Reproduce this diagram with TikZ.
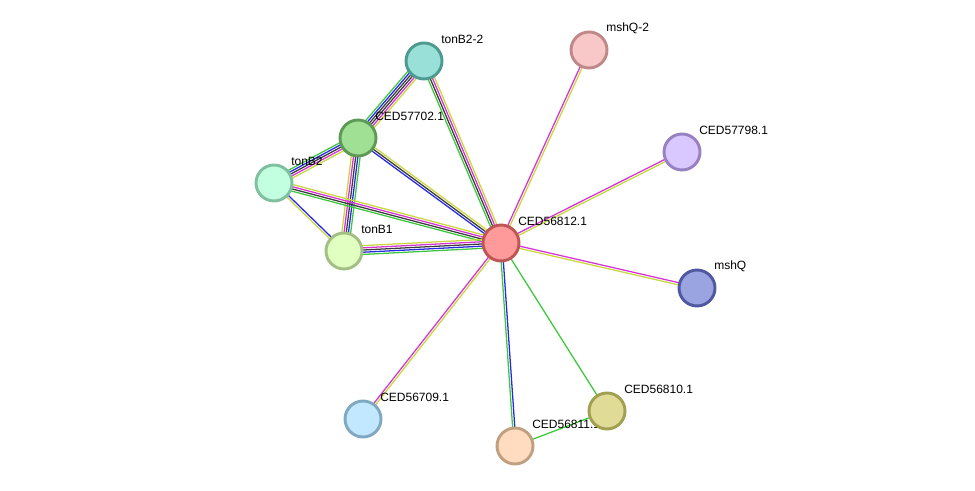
\documentclass[tikz,border=0pt]{standalone}
\usepackage{fontspec}
\setmainfont{Liberation Sans}
\usetikzlibrary{calc,backgrounds}

% evidence colours
\definecolor{egreen}{RGB}{60,200,60}
\definecolor{eblue}{RGB}{40,40,235}
\definecolor{epink}{RGB}{215,50,215}
\definecolor{edark}{RGB}{60,60,60}
\definecolor{eyellow}{RGB}{200,215,60}

% parallel strands between two proteins
\newcommand{\linkedge}[4]{%
  \foreach \c [count=\i] in {#4} {
    \pgfmathsetmacro{\off}{((#3+1)/2-\i)*1.65}
    \draw[strand,\c] ($(#1)!\off pt!90:(#2)$) -- ($(#2)!\off pt!-90:(#1)$);
  }}

\begin{document}
\begin{tikzpicture}[
  x=0.75pt, y=-0.75pt,
  every node/.style={font=\fontsize{9}{10}\selectfont},
  protein/.style={circle,minimum size=27pt,inner sep=0pt,line width=2.2pt},
  tag/.style={anchor=west,inner sep=0pt},
  strand/.style={line width=0.95pt}
]
\useasboundingbox (0,0) rectangle (975,491);

% proteins
\foreach \n/\x/\y/\f/\d/\t in {
  tonBzz/424/61/99E0D8/4E9A90/tonB2-2,
  nfivesevenzero/358/138/A0E094/5E9A55/CED57702.1,
  tonBtwo/274/183/C2FFE0/80C0A0/tonB2,
  tonBone/344/251/E2FFC2/A2C084/tonB1,
  hub/501/243/FF9A9A/C05555/CED56812.1,
  mshQtwo/589/50/F8C8C8/C08888/mshQ-2,
  nfivesevennine/682/152/D8C8FF/9880C4/CED57798.1,
  mshQ/697/288/9AA4E0/5058A0/mshQ,
  nsixeleven/515/446/FFDCC0/C0A080/CED56811.1,
  nsixten/607/411/E0DC98/A0A050/CED56810.1,
  nsevenoh/363/419/C2E8FF/80A8C0/CED56709.1} {
  \definecolor{pf}{HTML}{\f}
  \definecolor{pd}{HTML}{\d}
  \node[protein,fill=pf,draw=pd] (\n) at (\x,\y) {};
  \node[tag] (\n-tag) at ($(\n)+(17,-22)$) {\t};
}

% interaction strands
\begin{scope}[on background layer]
  \linkedge{tonBzz}{nfivesevenzero}{6}{eyellow,epink,edark,edark,eblue,egreen}
  \linkedge{tonBzz}{hub}{4}{eyellow,epink,edark,egreen}
  \linkedge{nfivesevenzero}{tonBtwo}{5}{eyellow,epink,edark,eblue,egreen}
  \linkedge{nfivesevenzero}{tonBone}{5}{egreen,eblue,edark,epink,eyellow}
  \linkedge{nfivesevenzero}{hub}{3}{eyellow,edark,eblue}
  \linkedge{tonBtwo}{tonBone}{2}{eblue,eyellow}
  \linkedge{tonBtwo}{hub}{4}{eyellow,epink,edark,egreen}
  \linkedge{tonBone}{hub}{5}{eyellow,epink,edark,eblue,egreen}
  \linkedge{hub}{mshQtwo}{2}{epink,eyellow}
  \linkedge{hub}{nfivesevennine}{2}{epink,eyellow}
  \linkedge{hub}{mshQ}{2}{epink,eyellow}
  \linkedge{hub}{nsixten}{1}{egreen}
  \linkedge{hub}{nsixeleven}{2}{eblue,egreen}
  \linkedge{hub}{nsevenoh}{2}{eyellow,epink}
  \linkedge{nsixeleven}{nsixten}{1}{egreen}
\end{scope}

\end{tikzpicture}
\end{document}
